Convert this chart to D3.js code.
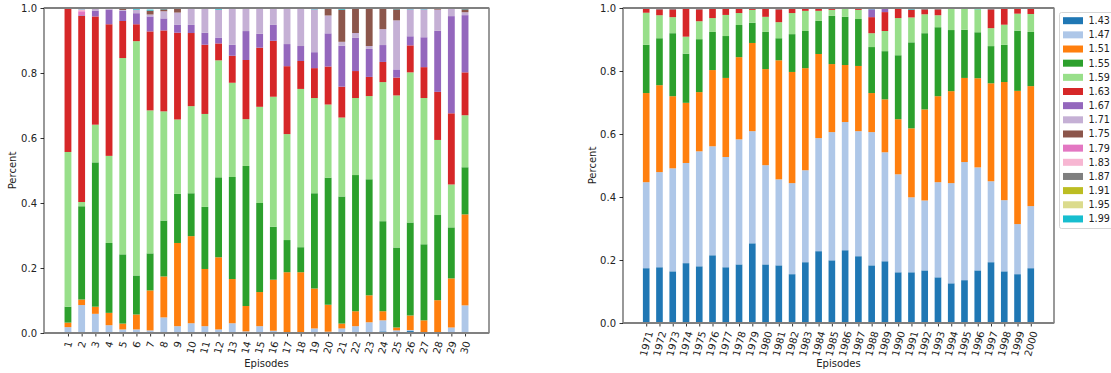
<!DOCTYPE html>
<html>
<head>
<meta charset="utf-8">
<script src="https://cdn.jsdelivr.net/npm/d3@7"></script>
<style>
  html, body { margin: 0; padding: 0; background: #fff; }
  svg { display: block; font-family: "DejaVu Sans", sans-serif; }
</style>
</head>
<body>
<svg id="chart" width="1111" height="373"></svg>
<script>
// Share of each height class per bar (stacked to 1.0)
const seriesKeys = ["1.43","1.47","1.51","1.55","1.59","1.63","1.67","1.71","1.75","1.79","1.83","1.87","1.91","1.95","1.99"];
const seriesColors = ["#1f77b4","#aec7e8","#ff7f0e","#2ca02c","#98df8a","#d62728","#9467bd","#c5b0d5","#8c564b","#e377c2","#f7b6d2","#7f7f7f","#bcbd22","#dbdb8d","#17becf"];
const yTicks = [0.0, 0.2, 0.4, 0.6, 0.8, 1.0];

// Left panel: episodes
const episodes = ["1","2","3","4","5","6","7","8","9","10","11","12","13","14","15","16","17","18","19","20","21","22","23","24","25","26","27","28","29","30"];
const ep143 = [0.002,0,0,0,0,0,0,0,0,0.003,0,0,0,0,0,0.002,0,0,0,0.002,0,0,0,0.005,0.003,0.006,0,0,0,0];
const ep147 = [0.016,0.086,0.059,0.024,0.011,0.011,0.008,0.048,0.021,0.027,0.021,0.011,0.03,0.005,0.021,0.005,0,0.003,0.014,0.002,0.014,0.021,0.033,0.034,0.005,0.003,0,0,0.017,0.085];
const ep151 = [0.014,0.017,0.022,0.038,0.018,0.046,0.123,0.126,0.256,0.268,0.176,0.222,0.136,0.078,0.105,0.157,0.187,0.184,0.123,0.083,0.015,0.046,0.083,0.028,0.009,0.045,0.039,0.101,0.151,0.28];
const ep155 = [0.049,0.287,0.444,0.215,0.213,0.12,0.114,0.172,0.151,0.132,0.191,0.246,0.314,0.431,0.274,0.163,0.099,0.077,0.293,0.391,0.391,0.419,0.357,0.277,0.246,0.286,0.234,0.262,0.157,0.145];
const ep159 = [0.476,0.013,0.116,0.268,0.604,0.721,0.44,0.336,0.229,0.268,0.286,0.36,0.29,0.144,0.296,0.4,0.326,0.487,0.293,0.225,0.243,0.237,0.256,0.428,0.468,0.462,0.45,0.231,0.132,0.16];
const ep163 = [0.44,0.573,0.333,0.405,0.114,0.052,0.243,0.249,0.267,0.225,0.213,0.052,0.083,0.182,0.182,0.172,0.209,0.086,0.092,0.117,0.095,0.083,0.059,0.062,0.055,0.083,0.095,0.148,0.219,0.132];
const ep167 = [0,0.002,0.018,0.045,0.031,0.034,0.046,0.037,0.025,0.025,0.037,0.018,0.034,0.089,0.043,0.049,0.068,0.046,0.049,0.102,0.126,0.102,0.086,0.052,0.025,0.028,0.092,0.188,0.299,0.176];
const ep171 = [0,0,0.005,0.003,0.003,0.011,0.006,0.022,0.037,0.049,0.074,0.086,0.111,0.068,0.077,0.049,0.108,0.114,0.132,0.055,0.012,0.015,0.009,0.049,0.151,0.083,0.086,0.065,0.022,0.009];
const ep175 = [0,0,0,0,0.003,0,0.012,0.006,0.012,0,0,0,0,0,0,0,0,0,0,0.022,0.099,0.074,0.114,0.062,0.034,0,0,0.003,0,0.009];
const ep179 = [0,0.012,0,0,0,0,0,0,0,0,0,0,0,0,0,0,0,0,0,0,0,0,0,0,0,0,0,0,0,0];
const ep183 = [0,0.006,0,0,0,0,0,0,0,0,0,0,0,0,0,0,0,0,0,0,0,0,0,0,0,0,0,0,0,0];
const ep187 = [0,0,0,0,0,0,0,0,0,0,0,0,0,0,0,0,0,0,0,0,0,0,0,0,0,0,0,0,0,0];
const ep191 = [0,0,0,0,0,0,0,0,0,0,0,0,0,0,0,0,0,0,0,0,0,0,0,0,0,0,0,0,0,0];
const ep195 = [0,0,0,0,0,0,0,0,0,0,0,0,0,0,0,0,0,0,0,0,0,0,0,0,0,0,0,0,0,0];
const ep199 = [0.003,0.003,0.003,0.003,0.003,0.003,0.003,0.003,0.003,0.003,0.003,0.003,0.003,0.003,0.003,0.003,0.003,0.003,0.003,0.003,0.003,0.003,0.003,0.003,0.003,0.003,0.003,0.003,0.003,0.003];

// Right panel: years
const years = ["1971","1972","1973","1974","1975","1976","1977","1978","1979","1980","1981","1982","1983","1984","1985","1986","1987","1988","1989","1990","1991","1992","1993","1994","1995","1996","1997","1998","1999","2000"];
const yr143 = [0.174,0.177,0.164,0.19,0.18,0.215,0.177,0.186,0.253,0.186,0.183,0.155,0.193,0.228,0.199,0.231,0.212,0.183,0.196,0.161,0.161,0.167,0.145,0.126,0.136,0.167,0.193,0.164,0.155,0.174];
const yr147 = [0.273,0.302,0.327,0.318,0.365,0.346,0.35,0.397,0.356,0.315,0.273,0.289,0.292,0.359,0.407,0.407,0.397,0.423,0.346,0.311,0.238,0.222,0.302,0.318,0.375,0.327,0.257,0.226,0.159,0.197];
const yr151 = [0.283,0.276,0.229,0.191,0.188,0.242,0.251,0.261,0.28,0.305,0.378,0.353,0.324,0.267,0.216,0.181,0.207,0.124,0.168,0.175,0.219,0.289,0.273,0.292,0.267,0.283,0.311,0.375,0.423,0.381];
const yr155 = [0.153,0.149,0.2,0.156,0.168,0.121,0.133,0.102,0.064,0.118,0.07,0.12,0.118,0.105,0.153,0.153,0.149,0.146,0.153,0.203,0.273,0.242,0.219,0.194,0.153,0.146,0.118,0.118,0.191,0.172];
const yr159 = [0.102,0.073,0.051,0.054,0.057,0.044,0.067,0.038,0.041,0.048,0.051,0.067,0.064,0.032,0.019,0.025,0.029,0.044,0.064,0.118,0.079,0.06,0.038,0.067,0.067,0.073,0.057,0.064,0.054,0.057];
const yr163 = [0.013,0.019,0.025,0.089,0.038,0.029,0.019,0.013,0.003,0.025,0.041,0.013,0.006,0.006,0.003,0,0.003,0.051,0.06,0.029,0.025,0.016,0.019,0,0,0,0.06,0.051,0.016,0.016];
const yr167 = [0,0,0,0,0,0,0,0,0,0,0,0,0,0,0,0,0,0.025,0.01,0,0,0,0,0,0,0,0,0,0,0];
const yrZero = [0,0,0,0,0,0,0,0,0,0,0,0,0,0,0,0,0,0,0,0,0,0,0,0,0,0,0,0,0,0];
const yr199 = [0.003,0.003,0.003,0.003,0.003,0.003,0.003,0.003,0.003,0.003,0.003,0.003,0.003,0.003,0.003,0.003,0.003,0.003,0.003,0.003,0.003,0.003,0.003,0.003,0.003,0.003,0.003,0.003,0.003,0.003];

const leftSeries = [ep143, ep147, ep151, ep155, ep159, ep163, ep167, ep171, ep175, ep179, ep183, ep187, ep191, ep195, ep199];
const rightSeries = [yr143, yr147, yr151, yr155, yr159, yr163, yr167, yrZero, yrZero, yrZero, yrZero, yrZero, yrZero, yrZero, yr199];

function buildRows(cats, series) {
  return cats.map((c, i) => {
    const row = { cat: c };
    seriesKeys.forEach((k, j) => { row[k] = series[j][i]; });
    return row;
  });
}

const svg = d3.select("#chart");
const color = d3.scaleOrdinal().domain(seriesKeys).range(seriesColors);
const FONT = 10;

function drawPanel(cats, series, box) {
  const rows = buildRows(cats, series);
  const stacked = d3.stack().keys(seriesKeys)(rows);

  const x = d3.scaleLinear().domain([-1.75, cats.length - 1 + 1.75]).range([box.x0, box.x1]);
  const y = d3.scaleLinear().domain([0, 1]).range([box.y1, box.y0]);
  const bw = x(0.5) - x(0);

  const g = svg.append("g");

  // stacked bars
  g.selectAll("g.layer").data(stacked).join("g")
    .attr("class", "layer")
    .attr("fill", d => color(d.key))
    .selectAll("rect").data(d => d).join("rect")
      .attr("x", (d, i) => x(i) - bw / 2)
      .attr("width", bw)
      .attr("y", d => y(d[1]))
      .attr("height", d => Math.max(0, y(d[0]) - y(d[1])));

  // y axis
  const yAxis = d3.axisLeft(y).tickValues(yTicks).tickFormat(d3.format(".1f"))
    .tickSize(3.5).tickPadding(3.5);
  const ya = g.append("g").attr("transform", `translate(${box.x0},0)`).call(yAxis);
  ya.select(".domain").remove();
  ya.selectAll("line").attr("stroke", "#000").attr("stroke-width", 0.8);
  ya.selectAll("text").attr("font-size", FONT).attr("fill", "#222").attr("font-family", "DejaVu Sans");

  // x axis with labels rotated 75 degrees
  const xAxis = d3.axisBottom(x).tickValues(d3.range(cats.length)).tickFormat(i => cats[i])
    .tickSize(3.5).tickPadding(3.5);
  const xa = g.append("g").attr("transform", `translate(0,${box.y1})`).call(xAxis);
  xa.select(".domain").remove();
  xa.selectAll("line").attr("stroke", "#000").attr("stroke-width", 0.8);
  const ang = 75 * Math.PI / 180;
  xa.selectAll("text")
    .attr("font-size", FONT).attr("fill", "#222").attr("font-family", "DejaVu Sans")
    .attr("text-anchor", "middle").attr("dy", "0.32em").attr("y", 0)
    .each(function () {
      const L = this.getComputedTextLength();
      const H = 11.6;
      const h = L * Math.sin(ang) + H * Math.cos(ang);
      d3.select(this).attr("transform", `translate(0,${7 + h / 2}) rotate(-75)`);
    });

  // frame
  g.append("rect").attr("x", box.x0).attr("y", box.y0)
    .attr("width", box.x1 - box.x0).attr("height", box.y1 - box.y0)
    .attr("fill", "none").attr("stroke", "#000").attr("stroke-width", 0.8);

  // reference lines at 0 and 1
  [0, 1].forEach(v => {
    g.append("line").attr("x1", box.x0).attr("x2", box.x1)
      .attr("y1", y(v)).attr("y2", y(v))
      .attr("stroke", "#808080").attr("stroke-width", 2);
  });

  // axis titles
  g.append("text").attr("x", (box.x0 + box.x1) / 2).attr("y", 367)
    .attr("text-anchor", "middle").attr("font-size", FONT).attr("fill", "#222")
    .text("Episodes");
  g.append("text")
    .attr("transform", `translate(${box.yl},${(box.y0 + box.y1) / 2}) rotate(-90)`)
    .attr("text-anchor", "middle").attr("dy", "0.35em").attr("font-size", FONT).attr("fill", "#222")
    .text("Percent");
}

drawPanel(episodes, leftSeries, { x0: 44, x1: 489, y0: 8, y1: 333, yl: 12 });
drawPanel(years, rightSeries, { x0: 623, x1: 1054, y0: 8, y1: 323, yl: 592.5 });

// legend
const lg = svg.append("g");
lg.append("rect").attr("x", 1059.5).attr("y", 12.5).attr("width", 70).attr("height", 216)
  .attr("rx", 2).attr("fill", "#fff").attr("fill-opacity", 0.8)
  .attr("stroke", "#cccccc").attr("stroke-width", 0.8);
seriesKeys.forEach((k, i) => {
  const cy = 20.7 + i * 14.16;
  lg.append("rect").attr("x", 1063).attr("y", cy - 3.5).attr("width", 20).attr("height", 7)
    .attr("fill", color(k));
  lg.append("text").attr("x", 1088.5).attr("y", cy).attr("dy", "0.35em")
    .attr("font-size", 9.6).attr("fill", "#222").text(k);
});
</script>
</body>
</html>
